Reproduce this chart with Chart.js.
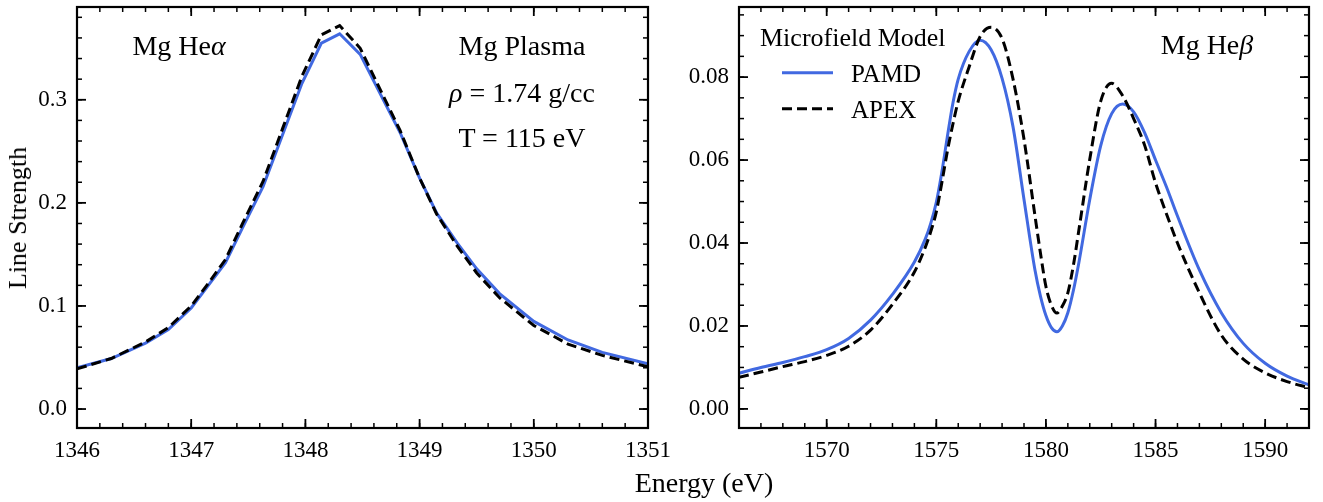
<!DOCTYPE html>
<html><head><meta charset="utf-8">
<script src="https://cdn.jsdelivr.net/npm/chart.js@4"></script>
<style>
html,body{margin:0;padding:0;background:#fff;}
#wrap{position:relative;width:1323px;height:502px;overflow:hidden;font-family:"Liberation Serif",serif;color:#000;}
canvas{position:absolute;top:0;}
.t{position:absolute;white-space:nowrap;line-height:1;}
.c{transform:translateX(-50%);}
</style></head><body>
<div id="wrap">
<canvas id="c1" width="700" height="502" style="left:0;width:700px;height:502px"></canvas>
<canvas id="c2" width="663" height="502" style="left:660px;width:663px;height:502px"></canvas>
<div class="t c" style="left:179px;top:32px;font-size:28px">Mg He<i>α</i></div>
<div class="t c" style="left:522px;top:32px;font-size:28px">Mg Plasma</div>
<div class="t c" style="left:522px;top:79px;font-size:28px"><i>ρ</i> = 1.74 g/cc</div>
<div class="t c" style="left:522px;top:124px;font-size:28px">T = 115 eV</div>
<div class="t c" style="left:1207px;top:31px;font-size:28px">Mg He<i>β</i></div>
<div class="t" style="left:760px;top:25px;font-size:26px">Microfield Model</div>
<div class="t" id="lg0" style="left:851px;top:61px;font-size:25px">PAMD</div>
<div class="t" id="lg1" style="left:851px;top:97px;font-size:25px">APEX</div>
<div class="t c" style="left:704px;top:469px;font-size:28px">Energy (eV)</div>
<div class="t" style="left:18px;top:218px;font-size:26px;transform:translate(-50%,-50%) rotate(-90deg)">Line Strength</div>
</div>
<script>
// ---------- data ----------
const leftEnergy = [1346.0,1346.3,1346.6,1346.8,1347.0,1347.15,1347.3,1347.45,1347.63,1347.8,1347.97,1348.14,1348.3,1348.48,1348.65,1348.83,1349.0,1349.15,1349.33,1349.5,1349.7,1350.0,1350.3,1350.6,1351.0];
const leftPAMD = [0.040,0.049,0.064,0.077,0.098,0.120,0.142,0.176,0.216,0.266,0.316,0.355,0.364,0.344,0.307,0.268,0.224,0.190,0.161,0.136,0.112,0.085,0.067,0.055,0.044];
const leftAPEX = [0.039,0.049,0.065,0.079,0.100,0.122,0.145,0.180,0.221,0.272,0.323,0.363,0.372,0.350,0.311,0.270,0.224,0.189,0.158,0.132,0.108,0.081,0.063,0.052,0.041];

const rightEnergy = [1566,1567,1568,1569,1570,1571,1572,1573,1574,1574.5,1574.75,1575,1575.25,1575.5,1575.75,1576,1576.5,1577,1577.5,1578,1578.5,1579,1579.5,1579.75,1580,1580.25,1580.5,1580.75,1581,1581.25,1581.5,1582,1582.5,1583,1583.5,1584,1584.5,1585,1585.5,1586,1587,1588,1589,1590,1591,1592];
const rightPAMD = [0.0086,0.0100,0.0112,0.0126,0.0143,0.0170,0.0214,0.0276,0.0354,0.0410,0.0448,0.0498,0.0570,0.0655,0.0735,0.0795,0.0862,0.0889,0.0866,0.0797,0.0680,0.0505,0.0335,0.0272,0.0225,0.0196,0.0186,0.0200,0.0232,0.0285,0.0352,0.0505,0.0635,0.0712,0.0735,0.0716,0.0666,0.0600,0.0535,0.0465,0.0335,0.0232,0.0158,0.0110,0.0079,0.0058];
const rightAPEX = [0.0076,0.0089,0.0102,0.0114,0.0129,0.0151,0.0190,0.0252,0.0330,0.0390,0.0428,0.0475,0.0545,0.0620,0.0685,0.0742,0.0825,0.0898,0.0920,0.0893,0.0795,0.0650,0.0466,0.0376,0.0295,0.0250,0.0231,0.0248,0.0280,0.0345,0.0430,0.0602,0.0742,0.0785,0.0755,0.0700,0.0636,0.0545,0.0470,0.0400,0.0280,0.0178,0.0120,0.0087,0.0066,0.0051];

const leftXTicks = [1346,1347,1348,1349,1350,1351];
const leftYTicks = [0.0,0.1,0.2,0.3];
const rightXTicks = [1570,1575,1580,1585,1590];
const rightYTicks = [0.00,0.02,0.04,0.06,0.08];
const seriesNames = ['PAMD','APEX'];

// ---------- styling ----------
Chart.defaults.font.family = '"Liberation Serif", serif';
Chart.defaults.font.size = 23;
Chart.defaults.color = '#000';

const pts = (xs, ys) => xs.map((x, i) => ({x: x, y: ys[i]}));

function minorLoop(min, max, step, fn) {
  for (let k = Math.ceil(min / step - 1e-9); k * step <= max + 1e-9; k++) fn(k * step);
}

const framePlugin = {
  id: 'frame',
  afterDatasetsDraw(chart) {
    const o = chart.options.plugins.frame;
    const {ctx, chartArea: a, scales: {x, y}} = chart;
    ctx.save();
    ctx.strokeStyle = '#000';
    ctx.lineCap = 'butt';
    const seg = (x1, y1, x2, y2) => { ctx.beginPath(); ctx.moveTo(x1, y1); ctx.lineTo(x2, y2); ctx.stroke(); };
    const xt = (v, len) => { const p = x.getPixelForValue(v); seg(p, a.bottom, p, a.bottom - len); seg(p, a.top, p, a.top + len); };
    const yt = (v, len) => { const p = y.getPixelForValue(v); seg(a.left, p, a.left + len, p); seg(a.right, p, a.right - len, p); };
    ctx.lineWidth = 1.5;
    minorLoop(x.min, x.max, o.xMinor, v => xt(v, 5));
    minorLoop(y.min, y.max, o.yMinor, v => yt(v, 5));
    ctx.lineWidth = 1.8;
    x.ticks.forEach(t => xt(t.value, 9));
    y.ticks.forEach(t => yt(t.value, 9));
    ctx.lineWidth = 2.2;
    ctx.strokeRect(a.left, a.top, a.right - a.left, a.bottom - a.top);
    // legend swatches
    if (o.legend) {
      chart.data.datasets.forEach((ds, i) => {
        const el = document.getElementById('lg' + i);
        const cy = el.offsetTop + el.offsetHeight * 0.47;
        const cvLeft = chart.canvas.offsetLeft;
        ctx.strokeStyle = ds.borderColor;
        ctx.lineWidth = ds.borderWidth;
        ctx.setLineDash(ds.borderDash || []);
        seg(782 - cvLeft, cy, 833 - cvLeft, cy);
      });
      ctx.setLineDash([]);
    }
    ctx.restore();
  }
};

function makeChart(id, xs, a, b, xTicks, yTicks, lim, dec, smooth, yWidth, padRight, minors, legend) {
  const common = {pointRadius: 0, borderWidth: 3, fill: false,
    tension: smooth ? 0.4 : 0, cubicInterpolationMode: smooth ? 'monotone' : 'default'};
  return new Chart(document.getElementById(id), {
    type: 'line',
    data: {datasets: [
      Object.assign({label: seriesNames[0], data: pts(xs, a), borderColor: '#4169e1', order: 1}, common),
      Object.assign({label: seriesNames[1], data: pts(xs, b), borderColor: '#000000', borderDash: [10, 5], order: 0}, common)
    ]},
    options: {
      responsive: false, animation: false, events: [],
      layout: {padding: {top: 7, right: padRight, left: 0, bottom: 0}},
      plugins: {legend: {display: false}, tooltip: {enabled: false}, frame: {xMinor: minors[0], yMinor: minors[1], legend: legend}},
      scales: {
        x: {type: 'linear', min: lim[0], max: lim[1],
          grid: {display: false, drawTicks: false}, border: {display: false},
          ticks: {padding: 9, maxRotation: 0, autoSkip: false, callback: v => String(v)},
          afterBuildTicks: s => { s.ticks = xTicks.map(v => ({value: v})); },
          afterFit: s => { s.height = 74; s.paddingLeft = 0; s.paddingRight = 0; }
        },
        y: {type: 'linear', min: lim[2], max: lim[3],
          grid: {display: false, drawTicks: false}, border: {display: false},
          ticks: {padding: 10, autoSkip: false, callback: v => v.toFixed(dec)},
          afterBuildTicks: s => { s.ticks = yTicks.map(v => ({value: v})); },
          afterFit: s => { s.width = yWidth; s.paddingTop = 0; s.paddingBottom = 0; }
        }
      }
    },
    plugins: [framePlugin]
  });
}

makeChart('c1', leftEnergy, leftPAMD, leftAPEX, leftXTicks, leftYTicks,
  [1346, 1351, -0.0184, 0.390], 1, false, 77, 52, [0.2, 0.02], false);
makeChart('c2', rightEnergy, rightPAMD, rightAPEX, rightXTicks, rightYTicks,
  [1566, 1592, -0.0046, 0.0969], 2, true, 79, 14, [1, 0.005], true);
</script>
</body></html>
